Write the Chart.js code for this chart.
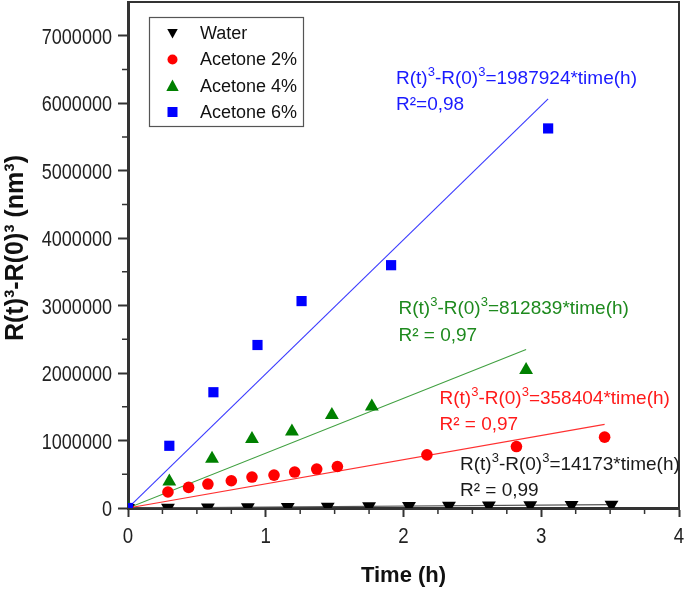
<!DOCTYPE html>
<html><head><meta charset="utf-8">
<script src="https://cdn.jsdelivr.net/npm/chart.js@4.4.0/dist/chart.umd.min.js"></script>
<style>html,body{margin:0;padding:0;background:#fff;} #wrap{width:688px;height:591px;position:relative;}</style>
</head><body><div id="wrap"><canvas id="c" width="688" height="591"></canvas></div>
<script>
// ---- data ----
const seriesNames = ['Water', 'Acetone 2%', 'Acetone 4%', 'Acetone 6%'];
const waterTime  = [0, 0.29, 0.58, 0.87, 1.16, 1.45, 1.75, 2.04, 2.33, 2.62, 2.92, 3.22, 3.51];
const waterValue = [0, 4000, 8000, 12000, 16000, 20000, 25000, 29000, 33000, 37000, 41000, 45000, 50000];
const acetone2Time  = [0, 0.29, 0.44, 0.58, 0.75, 0.90, 1.06, 1.21, 1.37, 1.52, 2.17, 2.82, 3.46];
const acetone2Value = [0, 237000, 305000, 355000, 404000, 459000, 488000, 533000, 577000, 615000, 788000, 911000, 1050000];
const acetone4Time  = [0, 0.30, 0.61, 0.90, 1.19, 1.48, 1.77, 2.89];
const acetone4Value = [0, 393000, 729000, 1021000, 1133000, 1380000, 1503000, 2046000];
const acetone6Time  = [0, 0.30, 0.62, 0.94, 1.26, 1.91, 3.05];
const acetone6Value = [0, 922000, 1716000, 2416000, 3067000, 3599000, 5626000];
const fitSlopes  = [14173, 358404, 812839, 1987924];
const fitEndTime = [3.51, 3.46, 2.89, 3.05];
const fitR2Text  = ['R\u00B2 = 0,99', 'R\u00B2 = 0,97', 'R\u00B2 = 0,97', 'R\u00B2=0,98'];
const xTickValues = [0, 1, 2, 3, 4];
const xTickLabels = ['0', '1', '2', '3', '4'];
const yTickValues = [0, 1000000, 2000000, 3000000, 4000000, 5000000, 6000000, 7000000];
const yTickLabels = ['0', '1000000', '2000000', '3000000', '4000000', '5000000', '6000000', '7000000'];

// ---- styles ----
const markerColors = ['#000000', '#ff0000', '#008000', '#0000ff'];
const lineColors   = ['#555555', '#ff3030', '#40a040', '#3a3aff'];
const textColors   = ['#1a1a1a', '#ff1a1a', '#1e8a1e', '#1a1aff'];
const markerStyles = ['triangle', 'circle', 'triangle', 'rect'];
const markerRot    = [180, 0, 0, 0];
const markerRadius = [8, 5.8, 8, 7.2];
const annotPos = [ {x:460, y:469.5}, {x:439.5, y:403.5}, {x:398.5, y:314}, {x:396, y:83.5} ];
const annotLineGap = 26.5;

const sansFam = '"Liberation Sans", Arial, sans-serif';

const pts = (xs, ys) => xs.map((x, i) => ({x: x, y: ys[i]}));
const times = [waterTime, acetone2Time, acetone4Time, acetone6Time];
const values = [waterValue, acetone2Value, acetone4Value, acetone6Value];

const datasets = [];
for (let i = 0; i < 4; i++) {
  datasets.push({
    label: seriesNames[i] + ' fit',
    data: [{x: 0, y: 0}, {x: fitEndTime[i], y: fitSlopes[i] * fitEndTime[i]}],
    showLine: true, borderColor: lineColors[i], borderWidth: 1.1, pointRadius: 0,
    order: 10 + i
  });
}
for (let i = 0; i < 4; i++) {
  datasets.push({
    label: seriesNames[i],
    data: pts(times[i], values[i]),
    showLine: false,
    pointStyle: markerStyles[i], rotation: markerRot[i], pointRadius: markerRadius[i],
    backgroundColor: markerColors[i], borderColor: markerColors[i], borderWidth: 0,
    order: 5 - i
  });
}

function drawMarker(ctx, style, rot, r, x, y, color) {
  ctx.save();
  ctx.fillStyle = color;
  ctx.beginPath();
  if (style === 'circle') {
    ctx.arc(x, y, r, 0, Math.PI * 2);
  } else if (style === 'rect') {
    ctx.rect(x - r, y - r, 2 * r, 2 * r);
  } else {
    const s = rot ? -1 : 1;
    ctx.moveTo(x, y - s * r);
    ctx.lineTo(x - r * 0.95, y + s * r * 0.75);
    ctx.lineTo(x + r * 0.95, y + s * r * 0.75);
    ctx.closePath();
  }
  ctx.fill();
  ctx.restore();
}

const framePlugin = {
  id: 'frame',
  afterDraw(chart) {
    const ctx = chart.ctx, a = chart.chartArea;
    const xs = chart.scales.x, ys = chart.scales.y;
    ctx.save();
    // top & right frame
    ctx.strokeStyle = '#333'; ctx.lineWidth = 2;
    ctx.beginPath();
    ctx.moveTo(a.left, a.top); ctx.lineTo(a.right, a.top); ctx.lineTo(a.right, a.bottom);
    ctx.stroke();
    // minor ticks
    ctx.lineWidth = 1.5;
    ctx.beginPath();
    for (let v = 500000; v < 7500000; v += 1000000) {
      const py = ys.getPixelForValue(v);
      ctx.moveTo(a.left - 6, py); ctx.lineTo(a.left, py);
    }
    for (let v = 0.25; v < 4; v += 0.25) {
      if (Math.abs(v - Math.round(v)) < 1e-6) continue;
      const px = xs.getPixelForValue(v);
      ctx.moveTo(px, a.bottom); ctx.lineTo(px, a.bottom + 6);
    }
    ctx.stroke();

    // tick labels (condensed Arial look)
    ctx.fillStyle = '#222';
    ctx.font = '22px ' + sansFam;
    ctx.textBaseline = 'alphabetic';
    ys.ticks.forEach((t) => {
      const idx = yTickValues.indexOf(t.value);
      if (idx < 0) return;
      const py = ys.getPixelForValue(t.value);
      ctx.save();
      ctx.translate(112, py + 8);
      ctx.scale(0.82, 1);
      ctx.textAlign = 'right';
      ctx.fillText(yTickLabels[idx], 0, 0);
      ctx.restore();
    });
    xs.ticks.forEach((t) => {
      const idx = xTickValues.indexOf(t.value);
      if (idx < 0) return;
      const px = xs.getPixelForValue(t.value);
      ctx.save();
      ctx.translate(px, 543);
      ctx.scale(0.85, 1);
      ctx.textAlign = 'center';
      ctx.fillText(xTickLabels[idx], 0, 0);
      ctx.restore();
    });

    // legend
    const lx = 149, ly = 17, lw = 154, lh = 109;
    ctx.fillStyle = '#fff';
    ctx.fillRect(lx, ly, lw, lh);
    ctx.strokeStyle = '#555'; ctx.lineWidth = 1.2;
    ctx.strokeRect(lx + 0.5, ly + 0.5, lw, lh);
    const rowY = [33, 59.5, 86, 112];
    const legR = [5.5, 5, 6.5, 5];
    ctx.font = '18px ' + sansFam;
    ctx.textBaseline = 'middle';
    ctx.textAlign = 'left';
    for (let i = 0; i < 4; i++) {
      drawMarker(ctx, markerStyles[i], markerRot[i], legR[i], 172.5, rowY[i], markerColors[i]);
      ctx.fillStyle = '#111';
      ctx.fillText(seriesNames[i], 200, rowY[i] + 1);
    }

    // annotations
    ctx.textBaseline = 'alphabetic';
    const fs = 19;
    for (let i = 0; i < 4; i++) {
      const p = annotPos[i];
      const parts = [['R(t)', 0], ['3', 1], ['-R(0)', 0], ['3', 1], ['=' + fitSlopes[i] + '*time(h)', 0]];
      let cx = p.x;
      ctx.fillStyle = textColors[i];
      for (const [t, sup] of parts) {
        ctx.font = (sup ? Math.round(fs * 0.66) : fs) + 'px ' + sansFam;
        ctx.fillText(t, cx, sup ? p.y - fs * 0.42 : p.y);
        cx += ctx.measureText(t).width;
      }
      ctx.font = fs + 'px ' + sansFam;
      ctx.fillText(fitR2Text[i], p.x, p.y + annotLineGap);
    }
    ctx.restore();
  }
};

new Chart(document.getElementById('c'), {
  type: 'scatter',
  data: { datasets: datasets },
  plugins: [framePlugin],
  options: {
    responsive: false, animation: false,
    layout: { autoPadding: false, padding: { top: 2, right: 9, left: 0, bottom: 0 } },
    plugins: { legend: { display: false }, tooltip: { enabled: false } },
    scales: {
      x: {
        type: 'linear', min: 0, max: 4, bounds: 'data',
        afterFit(s) { s.height = 83; },
        afterBuildTicks(s) { s.ticks = xTickValues.map(v => ({ value: v })); },
        ticks: { display: false },
        grid: { drawOnChartArea: false, drawTicks: true, tickLength: 9, tickWidth: 2, color: '#333' },
        border: { display: true, color: '#333', width: 3 },
        title: { display: true, text: 'Time (h)', color: '#111',
                 font: { family: sansFam, size: 22, weight: 'bold' }, padding: { top: 0, bottom: 2 } }
      },
      y: {
        type: 'linear', min: 0, max: 7500000, bounds: 'data',
        afterFit(s) { s.width = 128; },
        afterBuildTicks(s) { s.ticks = yTickValues.map(v => ({ value: v })); },
        ticks: { display: false },
        grid: { drawOnChartArea: false, drawTicks: true, tickLength: 10, tickWidth: 2, color: '#333' },
        border: { display: true, color: '#333', width: 3 },
        title: { display: true, text: '\u00A0\u00A0R(t)\u00B3-R(0)\u00B3 (nm\u00B3)', color: '#111',
                 font: { family: sansFam, size: 25, weight: 'bold' }, padding: { top: 1, bottom: 0 } }
      }
    }
  }
});
</script>
</body></html>
